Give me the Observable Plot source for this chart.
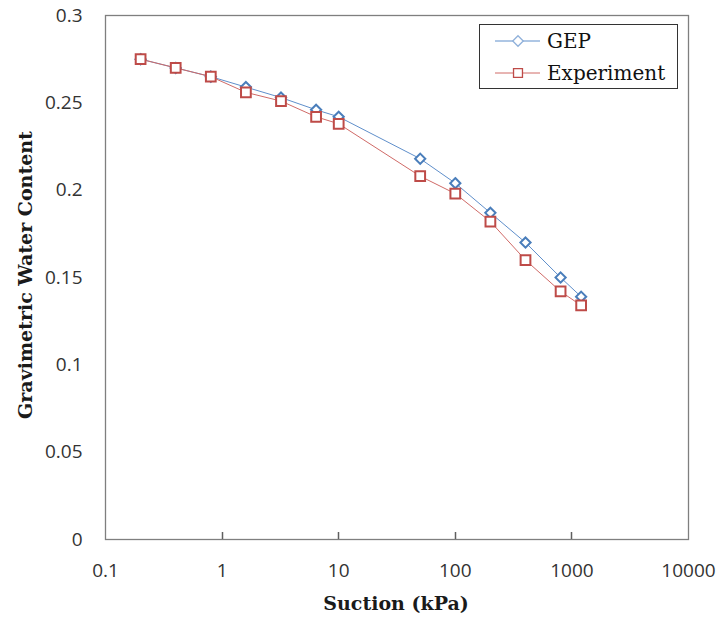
<!DOCTYPE html>
<html><head><meta charset="utf-8">
<script src="https://cdn.jsdelivr.net/npm/d3@7"></script>
<script src="https://cdn.jsdelivr.net/npm/@observablehq/plot@0.6"></script>
<style>
body{margin:0;background:#fff;}
#wrap{position:relative;width:717px;height:617px;}
#wrap svg.overlay{position:absolute;left:0;top:0;pointer-events:none;}
</style></head><body><div id="wrap"></div>
<script>
const suction = [0.2, 0.4, 0.8, 1.6, 3.2, 6.4, 10, 50, 100, 200, 400, 800, 1200];
const gep = [0.275, 0.270, 0.265, 0.259, 0.253, 0.246, 0.242, 0.218, 0.204, 0.187, 0.170, 0.150, 0.139];
const experiment = [0.275, 0.270, 0.265, 0.256, 0.251, 0.242, 0.238, 0.208, 0.198, 0.182, 0.160, 0.142, 0.134];
const xTicks = [0.1, 1, 10, 100, 1000, 10000];
const xTickLabels = ["0.1", "1", "10", "100", "1000", "10000"];
const xInnerTicks = [1, 10, 100, 1000];
const yTicks = [0, 0.05, 0.1, 0.15, 0.2, 0.25, 0.3];
const yTickLabels = ["0", "0.05", "0.1", "0.15", "0.2", "0.25", "0.3"];
const seriesNames = ["GEP", "Experiment"];
const seriesColors = ["#4a7ebb", "#be4b48"];
const lineColors = ["#5f8fcb", "#d06a67"];
const xTitle = "Suction (kPa)";
const yTitle = "Gravimetric Water Content";

const rows = [];
suction.forEach((s, i) => {
  rows.push({suction: s, value: gep[i], series: seriesNames[0]});
  rows.push({suction: s, value: experiment[i], series: seriesNames[1]});
});
const gepRows = rows.filter(d => d.series === seriesNames[0]);
const expRows = rows.filter(d => d.series === seriesNames[1]);

const chart = Plot.plot({
  width: 717, height: 617,
  marginLeft: 105, marginRight: 29, marginTop: 15, marginBottom: 78,
  style: {fontFamily: "'Open Sans', sans-serif", fontSize: "19px", color: "#333", background: "#fff", overflow: "visible"},
  x: {type: "log", domain: [0.1, 10000]},
  y: {domain: [0, 0.3]},
  marks: [
    Plot.axisX({ticks: xTicks, tickFormat: d => xTickLabels[xTicks.indexOf(d)], tickSize: 0, tickPadding: 24, label: null}),
    Plot.axisY({ticks: yTicks, tickFormat: d => yTickLabels[yTicks.indexOf(d)], tickSize: 0, tickPadding: 23, label: null}),
    Plot.frame({stroke: "#7f7f7f", strokeWidth: 1.3}),
    Plot.line(gepRows, {x: "suction", y: "value", stroke: lineColors[0], strokeWidth: 1}),
    Plot.line(expRows, {x: "suction", y: "value", stroke: lineColors[1], strokeWidth: 1}),
    Plot.dot(gepRows, {x: "suction", y: "value", symbol: "diamond2", r: 4.6, stroke: seriesColors[0], fill: "white", strokeWidth: 2}),
    Plot.dot(expRows, {x: "suction", y: "value", symbol: "square", r: 5.5, stroke: seriesColors[1], fill: "white", strokeWidth: 2})
  ]
});
const wrap = document.getElementById("wrap");
wrap.appendChild(chart);

// overlay: inward x ticks (via Plot's x and y scales), axis titles and legend
const sx = chart.scale("x"), sy = chart.scale("y");
const ov = d3.select(wrap).append("svg").attr("class", "overlay")
  .attr("width", 717).attr("height", 617);
const yBase = sy.apply(yTicks[0]);
xInnerTicks.forEach(t => {
  const x = Math.round(sx.apply(t)) + 0.5;
  ov.append("line").attr("x1", x).attr("x2", x).attr("y1", yBase - 7).attr("y2", yBase)
    .attr("stroke", "#5f5f5f").attr("stroke-width", 1.5);
});
ov.append("text").text(xTitle)
  .attr("x", 396).attr("y", 610).attr("text-anchor", "middle")
  .attr("font-family", "'DejaVu Serif', serif").attr("font-weight", "bold")
  .attr("font-size", 19).attr("fill", "#1a1a1a");
ov.append("text").text(yTitle)
  .attr("transform", "translate(32,275) rotate(-90)").attr("text-anchor", "middle")
  .attr("font-family", "'DejaVu Serif', serif").attr("font-weight", "bold")
  .attr("font-size", 19).attr("fill", "#1a1a1a");

const lg = ov.append("g");
lg.append("rect").attr("x", 479.5).attr("y", 24.5).attr("width", 198).attr("height", 64)
  .attr("fill", "white").attr("stroke", "#333").attr("stroke-width", 1);
const rowsY = [41, 73];
seriesNames.forEach((name, i) => {
  const y = rowsY[i];
  lg.append("line").attr("x1", 495).attr("x2", 540).attr("y1", y).attr("y2", y)
    .attr("stroke", lineColors[i]).attr("stroke-width", 1);
  const sym = i === 0 ? d3.symbol(d3.symbolDiamond2, 70) : d3.symbol(d3.symbolSquare, 80);
  lg.append("path").attr("d", sym()).attr("transform", `translate(518,${y})`)
    .attr("fill", "white").attr("stroke", i === 0 ? "#8fb0da" : seriesColors[i]).attr("stroke-width", 1.3);
  lg.append("text").text(name).attr("x", 547).attr("y", y + 7)
    .attr("font-family", "'DejaVu Serif', serif").attr("font-size", 20).attr("fill", "#111");
});
</script></body></html>
